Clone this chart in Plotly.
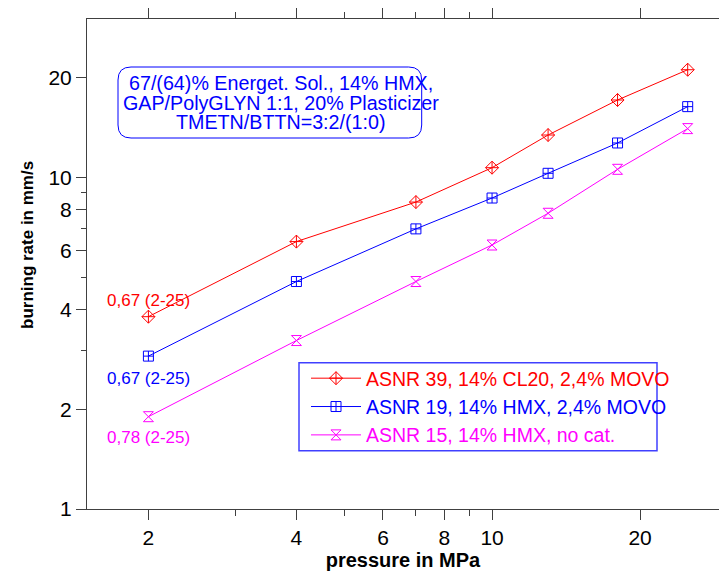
import numpy as np
import plotly.graph_objects as go

pressure = [2, 4, 7, 10, 13, 18, 25]
asnr39 = [3.80, 6.40, 8.42, 10.69, 13.41, 17.1, 21.1]
asnr19 = [2.89, 4.85, 6.99, 8.66, 10.28, 12.69, 16.33]
asnr15 = [1.898, 3.22, 4.85, 6.25, 7.79, 10.57, 14.02]

names = ["ASNR 39, 14% CL20, 2,4% MOVO",
         "ASNR 19, 14% HMX, 2,4% MOVO",
         "ASNR 15, 14% HMX, no cat."]
colors = ["#ff0000", "#0000ff", "#ff00ff"]
symbols = ["diamond-cross-open", "square-cross-open", "hourglass-open"]
sizes = [10, 10, 10]
exponents = ["0,67 (2-25)", "0,67 (2-25)", "0,78 (2-25)"]
label_shift = [16, -22, -21]

x_ticks = [2, 4, 6, 8, 10, 20]
x_minor = [3, 5, 7, 9]
y_ticks = [1, 2, 4, 6, 8, 10, 20]
y_minor = [3, 5, 7, 9]

box_lines = ["67/(64)% Energet. Sol., 14% HMX,",
             "GAP/PolyGLYN 1:1, 20% Plasticizer",
             "TMETN/BTTN=3:2/(1:0)"]

FONT = "Liberation Sans, Arial, sans-serif"

# plot area in pixels (for decoration placement)
L, R, T, B = 87, 719, 19, 509
PW, PH = R - L, B - T
def px(x):
    return (x - L) / PW
def py(y):
    return (B - y) / PH

fig = go.Figure()
series = [asnr39, asnr19, asnr15]
for ys, nm, c, sym, sz in zip(series, names, colors, symbols, sizes):
    fig.add_trace(go.Scatter(
        x=pressure, y=ys, mode="lines+markers",
        name=f'<span style="color:{c}">{nm}</span>',
        line=dict(color=c, width=1),
        marker=dict(symbol=sym, size=sz, color=c, line=dict(color=c, width=1)),
    ))

for ys, lab, c, sh in zip(series, exponents, colors, label_shift):
    fig.add_annotation(x=np.log10(pressure[0]), y=np.log10(ys[0]), text=lab,
                       showarrow=False, yshift=sh, xref="x", yref="y",
                       xanchor="center", yanchor="middle",
                       font=dict(family=FONT, size=17, color=c))

for line_txt, ly in zip(box_lines, [83, 102.5, 122]):
    fig.add_annotation(x=px(281), y=py(ly), xref="paper", yref="paper",
                       text=line_txt, showarrow=False,
                       xanchor="center", yanchor="middle",
                       font=dict(family=FONT, size=19.7, color="#0000ff"))

# rounded box around the text
x0, x1, y0, y1 = px(118), px(421.7), py(138), py(67)
rx, ry = 13 / PW, 13 / PH
path = (f"M {x0+rx},{y0} L {x1-rx},{y0} Q {x1},{y0} {x1},{y0+ry} "
        f"L {x1},{y1-ry} Q {x1},{y1} {x1-rx},{y1} L {x0+rx},{y1} "
        f"Q {x0},{y1} {x0},{y1-ry} L {x0},{y0+ry} Q {x0},{y0} {x0+rx},{y0} Z")
fig.add_shape(type="path", path=path, xref="paper", yref="paper",
              line=dict(color="#0000ff", width=1))

# legend box
fig.add_shape(type="rect", xref="paper", yref="paper",
              x0=px(299), x1=px(657), y0=py(450.7), y1=py(362.7),
              line=dict(color="#4040ff", width=1.5))

# y-axis title as rotated annotation
fig.add_annotation(x=px(27), y=py(245), xref="paper", yref="paper",
                   text="<b>burning rate in mm/s</b>", textangle=-90,
                   showarrow=False, xanchor="center", yanchor="middle",
                   font=dict(family=FONT, size=17, color="black"))

axis_common = dict(type="log", showgrid=False, zeroline=False,
                   showline=True, linecolor="#404040", linewidth=1,
                   ticks="outside", ticklen=10, tickcolor="#404040",
                   tickfont=dict(family=FONT, size=21, color="black"))

fig.update_layout(
    width=719, height=574,
    margin=dict(l=L, r=0, t=T, b=574 - B, autoexpand=False),
    paper_bgcolor="white", plot_bgcolor="white",
    showlegend=True,
    legend=dict(x=px(306), y=py(359),
                xanchor="left", yanchor="top",
                bgcolor="rgba(0,0,0,0)", borderwidth=0,
                font=dict(family=FONT, size=19.5),
                itemwidth=50, tracegroupgap=0),
    xaxis=dict(**axis_common,
               range=[np.log10(1.5), 1.4616],
               tickvals=x_ticks, ticktext=[str(v) for v in x_ticks],
               mirror="ticks",
               minor=dict(tickvals=x_minor, ticks="outside", ticklen=6,
                          tickcolor="#404040", showgrid=False),
               title=dict(text="<b>pressure in MPa</b>", standoff=2,
                          font=dict(family=FONT, size=20, color="black"))),
    yaxis=dict(**axis_common,
               range=[0, 1.4772],
               tickvals=y_ticks, ticktext=[str(v) for v in y_ticks],
               minor=dict(tickvals=y_minor, ticks="outside", ticklen=5,
                          tickcolor="#404040", showgrid=False)),
)

fig.write_html("out.html", config={"displayModeBar": False},
               post_script="document.body.style.margin='0';document.body.style.overflow='hidden';")
